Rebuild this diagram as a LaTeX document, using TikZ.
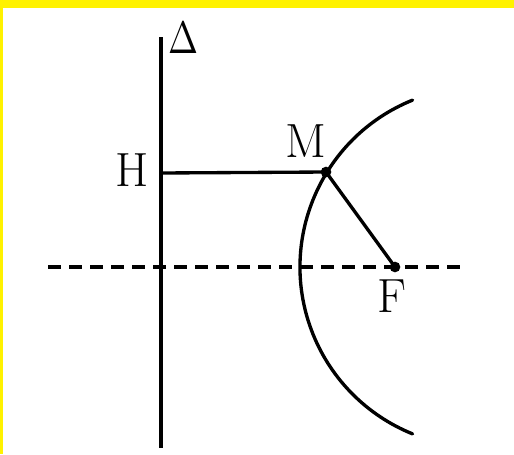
\documentclass[tikz,border=0pt]{standalone}
\begin{document}
\begin{tikzpicture}[x=0.75pt,y=-0.75pt,
  lbl/.style={inner sep=0pt,font=\fontsize{36}{42}\selectfont},
  thick line/.style={line width=3.4pt},
  main line/.style={line width=2.5pt},
  dot/.style={circle,fill=black,inner sep=0pt,minimum size=8pt}]
\useasboundingbox (0,0) rectangle (514,454);
\fill[yellow] (0,0) rectangle (514,454);
\fill[white] (3,8) rectangle (514,454);
% directrix
\coordinate (Dtop) at (161,37);
\coordinate (Dbot) at (161,448);
\draw[thick line] (Dtop) -- (Dbot);
% axis
\coordinate (Aleft) at (48,267);
\coordinate (Aright) at (460,267);
\draw[main line,dash pattern=on 9.5pt off 6.26pt] (Aleft) -- (Aright);
% conic arc, centre (480,267), radius 180
\coordinate (C) at (480,267);
\draw[main line,line cap=round] (C) ++(112:135pt) arc[start angle=112,end angle=248,radius=135pt];
% points
\coordinate (H) at (161,173);
\node[dot] (M) at (326,172) {};
\node[dot] (F) at (395,267) {};
\draw[main line] (H) -- (M.center) -- (F.center);
% labels
\node[lbl] (Hl) at (132,170) {H};
\node[lbl] (Ml) at (306,141) {M};
\node[lbl] (Fl) at (392,296) {F};
\node[inner sep=0pt,xscale=2.7,yscale=3.4] (Dl) at (183,38.5) {$\Delta$};
\end{tikzpicture}
\end{document}
